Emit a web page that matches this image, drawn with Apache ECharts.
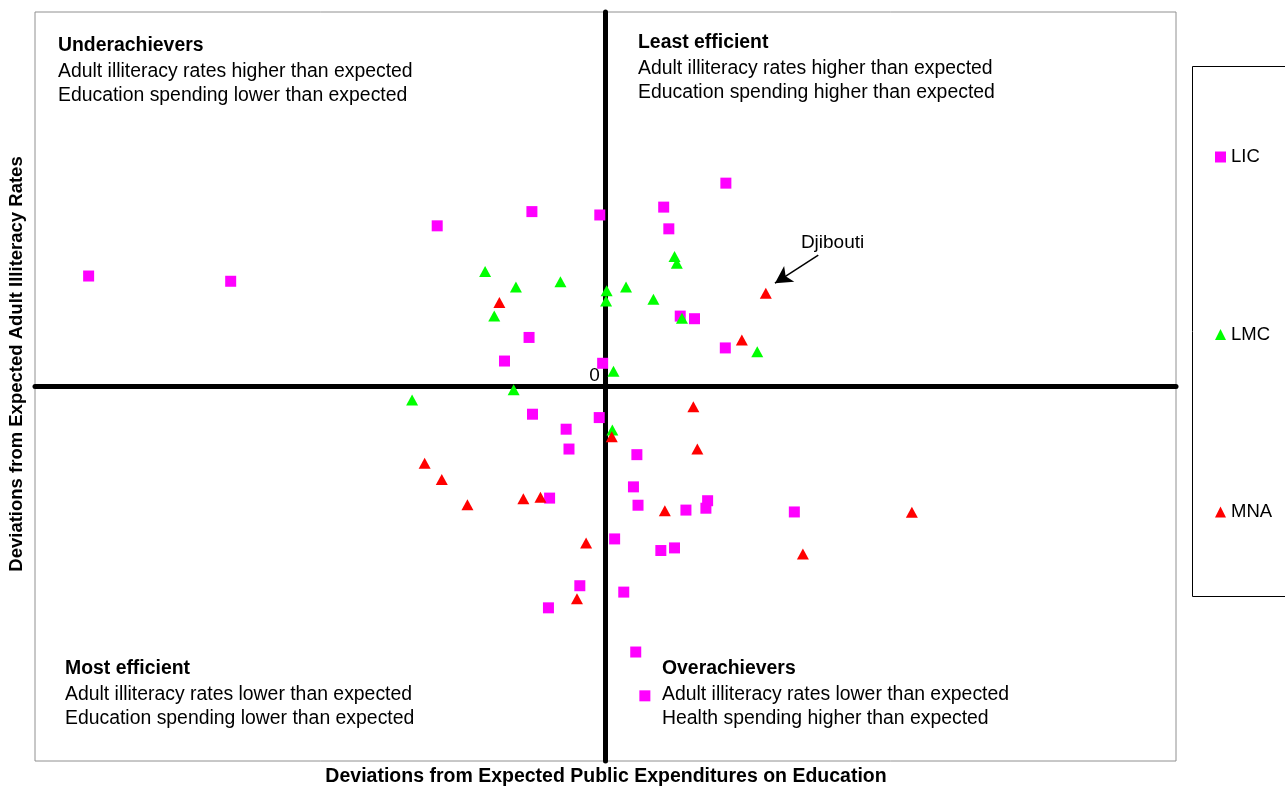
<!DOCTYPE html>
<html>
<head>
<meta charset="utf-8">
<title>Education spending efficiency</title>
<script src="https://cdn.jsdelivr.net/npm/echarts@6/dist/echarts.min.js"></script>
<style>
  html, body { margin: 0; padding: 0; background: #fff; }
  #chart { width: 1285px; height: 787px; }
</style>
</head>
<body>
<div id="chart"></div>
<script>
// Deviations from expected public education spending (x) and from expected adult illiteracy (y)
const seriesNames = ['LIC', 'LMC', 'MNA'];

const licPoints = [
  [-9.06, 2.95], [-6.57, 2.81], [-2.95, 4.29], [-1.29, 4.67], [-0.10, 4.58],
  [-1.34, 1.31], [-1.77, 0.68], [-0.05, 0.62], [2.11, 5.43], [1.02, 4.79],
  [1.11, 4.21], [1.31, 1.88], [1.56, 1.81], [2.10, 1.03], [-1.28, -0.74],
  [-0.11, -0.83], [-0.69, -1.14], [-0.64, -1.67], [-0.98, -2.98], [-0.45, -5.32],
  [-1.00, -5.91], [0.55, -1.82], [0.49, -2.68], [0.57, -3.17], [1.41, -3.30],
  [1.79, -3.05], [1.76, -3.25], [3.31, -3.35], [0.16, -4.07], [0.97, -4.38],
  [1.21, -4.31], [0.32, -5.49], [0.53, -7.09], [0.69, -8.26]
];

const lmcPoints = [
  [-2.11, 3.07], [-1.57, 2.66], [-0.79, 2.80], [0.02, 2.56], [0.01, 2.28],
  [0.36, 2.66], [0.84, 2.33], [1.21, 3.47], [1.25, 3.29], [-1.95, 1.88],
  [1.34, 1.82], [2.66, 0.93], [0.14, 0.41], [-1.61, -0.09], [-3.39, -0.36],
  [0.12, -1.16]
];

const mnaPoints = [
  [-1.86, 2.24], [2.81, 2.49], [2.39, 1.24], [1.54, -0.54], [0.11, -1.34],
  [1.61, -1.67], [1.04, -3.32], [5.37, -3.36], [3.46, -4.47], [-3.17, -2.05],
  [-2.87, -2.48], [-2.42, -3.16], [-1.44, -3.00], [-1.14, -2.96], [-0.34, -4.18],
  [-0.50, -5.67]
];

// Djibouti callout: label position, arrow tail and arrow tip
const djiboutiLabel = [3.98, 3.85];
const djiboutiArrow = [[3.73, 3.51], [2.97, 2.76]];

// the origin, labelled "0" where the two axes cross
const origin = [0, 0];

const axisRange = { xMin: -10, xMax: 10, yMin: -10, yMax: 10 };

const quadrantText = [
  { x: 58, y: 46, lines: ['Underachievers', 'Adult illiteracy rates higher than expected', 'Education spending lower than expected'] },
  { x: 638, y: 43, lines: ['Least efficient', 'Adult illiteracy rates higher than expected', 'Education spending higher than expected'] },
  { x: 65, y: 669, lines: ['Most efficient', 'Adult illiteracy rates lower than expected', 'Education spending lower than expected'] },
  { x: 662, y: 669, lines: ['Overachievers', 'Adult illiteracy rates lower than expected', 'Health spending higher than expected'] }
];

const FONT = '"Liberation Sans", Arial, Helvetica, sans-serif';

const graphics = [];
quadrantText.forEach(q => {
  q.lines.forEach((line, i) => {
    graphics.push({
      type: 'text', x: q.x, y: q.y + (i === 0 ? 0 : 1.5 + i * 24.3), z: 5,
      style: {
        text: line, fill: '#000',
        font: (i === 0 ? 'bold ' : '') + '19.4px ' + FONT,
        verticalAlign: 'middle', align: 'left'
      }
    });
  });
});
// axis titles
graphics.push({
  type: 'text', x: 606, y: 777, z: 5,
  style: { text: 'Deviations from Expected Public Expenditures on Education', fill: '#000',
           font: 'bold 19.5px ' + FONT, align: 'center', verticalAlign: 'middle' }
});
graphics.push({
  type: 'text', x: 17, y: 364, rotation: Math.PI / 2, z: 5,
  style: { text: 'Deviations from Expected Adult Illiteracy Rates', fill: '#000',
           font: 'bold 18.5px ' + FONT, align: 'center', verticalAlign: 'middle' }
});
// legend frame
graphics.push({
  type: 'rect', z: 0,
  shape: { x: 1192.5, y: 66.5, width: 100, height: 530 },
  style: { fill: '#fff', stroke: '#000', lineWidth: 1 }
});

const chart = echarts.init(document.getElementById('chart'), null, { renderer: 'canvas' });

chart.setOption({
  animation: false,
  backgroundColor: '#fff',
  textStyle: { fontFamily: FONT },
  grid: {
    left: 35, right: 109, top: 12, bottom: 26,
    show: true, borderColor: '#909090', borderWidth: 1, backgroundColor: 'transparent'
  },
  legend: {
    orient: 'vertical', left: 1215, top: 147, padding: 0,
    itemWidth: 11, itemHeight: 11, itemGap: 157.5,
    data: [
      { name: 'LIC', icon: 'rect' },
      { name: 'LMC', icon: 'triangle' },
      { name: 'MNA', icon: 'triangle' }
    ],
    textStyle: { fontSize: 18.5, color: '#000', fontFamily: FONT, lineHeight: 20 },
    selectedMode: false
  },
  xAxis: {
    type: 'value', min: axisRange.xMin, max: axisRange.xMax, interval: 10,
    axisLine: { onZero: true, lineStyle: { color: '#000', width: 5 } },
    axisTick: { show: false }, axisLabel: { show: false }, splitLine: { show: false }
  },
  yAxis: {
    type: 'value', min: axisRange.yMin, max: axisRange.yMax, interval: 10,
    axisLine: { onZero: true, lineStyle: { color: '#000', width: 5 } },
    axisTick: { show: false }, axisLabel: { show: false }, splitLine: { show: false }
  },
  graphic: graphics,
  series: [
    {
      name: seriesNames[0], type: 'scatter', data: licPoints,
      symbol: 'rect', symbolSize: 11, itemStyle: { color: '#ff00ff', opacity: 1 }, z: 3,
      markPoint: {
        silent: true, animation: false,
        symbol: 'circle', symbolSize: 1, itemStyle: { color: 'transparent' },
        label: {
          show: true, position: 'inside', offset: [-11, -11], formatter: '0',
          color: '#000', fontSize: 19, fontFamily: FONT
        },
        data: [{ coord: origin }]
      }
    },
    {
      name: seriesNames[1], type: 'scatter', data: lmcPoints,
      symbol: 'triangle', symbolSize: [12, 11], itemStyle: { color: '#00ff00', opacity: 1 }, z: 4
    },
    {
      name: seriesNames[2], type: 'scatter', data: mnaPoints,
      symbol: 'triangle', symbolSize: [12, 11], itemStyle: { color: '#ff0000', opacity: 1 }, z: 4,
      markLine: {
        silent: true, animation: false,
        symbol: ['none', 'arrow'], symbolSize: [14, 17],
        lineStyle: { color: '#000', width: 1.5, type: 'solid' },
        label: { show: false },
        data: [[
          { coord: djiboutiArrow[0] },
          { coord: djiboutiArrow[1] }
        ]]
      },
      markPoint: {
        silent: true, animation: false,
        symbol: 'circle', symbolSize: 1, itemStyle: { color: 'transparent' },
        label: {
          show: true, position: 'inside', formatter: 'Djibouti',
          color: '#000', fontSize: 19, fontFamily: FONT
        },
        data: [{ coord: djiboutiLabel }]
      }
    }
  ]
});
</script>
</body>
</html>
